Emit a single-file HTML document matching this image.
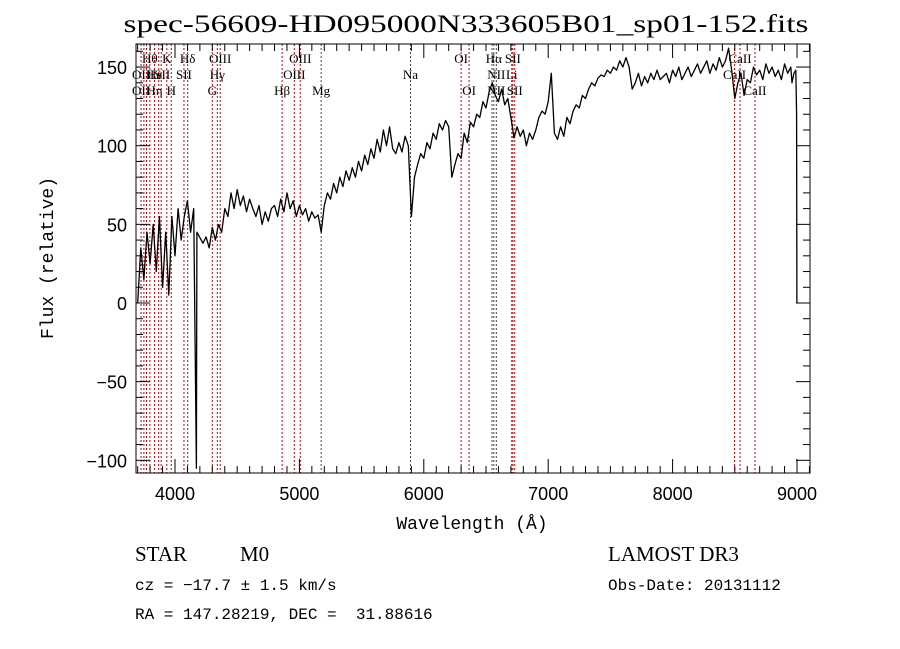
<!DOCTYPE html>
<html><head><meta charset="utf-8"><style>
body{margin:0;background:#fff;}
svg{display:block;font-family:"Liberation Serif",serif;}
</style></head><body>
<svg id="chart" width="900" height="649" viewBox="0 0 900 649" xmlns="http://www.w3.org/2000/svg">
<rect width="900" height="649" fill="#fff"/>
<text x="466" y="32" font-size="25" text-anchor="middle" textLength="685" lengthAdjust="spacingAndGlyphs">spec-56609-HD095000N333605B01_sp01-152.fits</text>
<g id="lines"></g>
<g id="spec"></g>
<g id="axes"></g>
<text x="472" y="529" font-family="Liberation Mono,monospace" font-size="18" text-anchor="middle">Wavelength (Å)</text>
<text transform="translate(53,258) rotate(-90)" font-family="Liberation Mono,monospace" font-size="18" text-anchor="middle">Flux (relative)</text>
<text x="135" y="561" font-size="21">STAR</text>
<text x="240" y="561" font-size="21">M0</text>
<text x="608" y="561" font-size="21">LAMOST DR3</text>
<text x="135" y="590" font-family="Liberation Mono,monospace" font-size="16">cz = −17.7 ± 1.5 km/s</text>
<text x="608" y="590" font-family="Liberation Mono,monospace" font-size="16">Obs-Date: 20131112</text>
<text x="135" y="619" font-family="Liberation Mono,monospace" font-size="16" xml:space="preserve">RA = 147.28219, DEC =  31.88616</text>
</svg>
<script>
const wave=[
3700,3725,3750,3775,3800,3825,3850,3875,3900,3925,
3950,3975,4000,4025,4050,4075,4100,4125,4150,4172,
4176,4225,4250,4275,4300,4325,4350,4375,4400,4425,
4450,4475,4500,4525,4550,4575,4600,4625,4650,4675,
4700,4725,4750,4775,4800,4825,4850,4875,4900,4925,
4950,4975,5000,5025,5050,5075,5100,5125,5150,5175,
5200,5225,5250,5275,5300,5325,5350,5375,5400,5425,
5450,5475,5500,5525,5550,5575,5600,5625,5650,5675,
5700,5725,5750,5775,5800,5825,5850,5875,5900,5925,
5950,5975,6000,6025,6050,6075,6100,6125,6150,6175,
6200,6225,6250,6275,6300,6325,6350,6375,6400,6425,
6450,6475,6500,6525,6550,6575,6600,6625,6650,6675,
6700,6725,6750,6775,6800,6825,6850,6875,6900,6925,
6950,6975,7000,7025,7050,7075,7100,7125,7150,7175,
7200,7225,7250,7275,7300,7325,7350,7375,7400,7425,
7450,7475,7500,7525,7550,7575,7600,7625,7650,7675,
7700,7725,7750,7775,7800,7825,7850,7875,7900,7925,
7950,7975,8000,8025,8050,8075,8100,8125,8150,8175,
8200,8225,8250,8275,8300,8325,8350,8375,8400,8425,
8450,8475,8500,8525,8550,8575,8600,8625,8650,8675,
8700,8725,8750,8775,8800,8825,8850,8875,8900,8925,
8950,8960,8975,8990,8997,8999];
const flux=[
0,35,15,45,25,50,20,55,10,45,
5,55,30,60,40,55,65,45,60,-105,
45,38,42,35,48,40,50,45,60,55,
70,60,72,62,68,58,66,60,55,62,
50,58,52,60,62,55,66,58,70,60,
65,55,62,56,60,52,58,54,56,45,
62,70,66,76,70,80,74,84,78,86,
80,90,84,94,88,98,92,104,96,110,
100,112,98,95,102,96,106,100,55,80,
88,95,92,102,98,108,104,114,110,116,
112,80,88,95,92,108,102,115,112,120,
118,128,124,134,140,132,128,136,126,130,
118,105,112,106,110,100,108,104,110,118,
122,120,128,146,108,104,112,106,118,114,
122,126,124,132,130,136,140,138,143,145,
144,148,146,150,148,154,150,156,150,136,
140,146,138,144,140,146,142,148,142,144,
146,140,148,144,150,142,146,150,144,148,
152,146,150,154,146,152,148,156,150,154,
162,148,130,140,146,132,142,140,150,145,
148,142,152,146,150,144,148,142,152,146,
150,140,146,148,120,0];
const lineWave=[3727,3750,3771,3798,3835,3869,3889,3934,3970,4072,4102,4300,4340,4363,4861,4959,5007,5175,5893,6300,6364,6548,6563,6583,6707,6716,6731,8498,8542,8662];
const lineDark=[0,0,0,0,0,0,0,0,0,0,1,0,0,0,0,0,0,1,1,0,0,1,1,1,0,0,0,0,0,0];
const lineLabels=[["OII",3727,1],["OII",3727,2],["Hθ",3798,0],["He",3835,1],["Hη",3835,2],["K",3934,0],["ISII",3880,1],["H",3970,2],["Hδ",4102,0],["SII",4072,1],["OIII",4363,0],["Hγ",4340,1],["G",4300,2],["OIII",5007,0],["OIII",4959,1],["Hβ",4861,2],["Mg",5175,2],["Na",5893,1],["OI",6300,0],["OI",6364,2],["Hα",6563,0],["SII",6716,0],["NII",6583,1],["Li",6707,1],["NII",6583,2],["SII",6731,2],["CaII",8542,0],["CaII",8498,1],["CaII",8662,2]];
const xTicks=[4000,5000,6000,7000,8000,9000];
const yTicks=[-100,-50,0,50,100,150];

const L=136,R=810,T=44,B=473;
const xs=w=>175+(w-4000)*0.1244;
const ys=v=>303-v*1.573;
const NS="http://www.w3.org/2000/svg";
function mk(tag,attrs,parent){const e=document.createElementNS(NS,tag);for(const k in attrs)e.setAttribute(k,attrs[k]);parent.appendChild(e);return e;}
const gl=document.getElementById('lines'),gs=document.getElementById('spec'),ga=document.getElementById('axes');
lineWave.forEach((w,i)=>{const x=xs(w);
 const l=mk('line',{x1:x,x2:x,y1:T,y2:B,stroke:lineDark[i]?'#444':'#c00000','stroke-width':1,'stroke-dasharray':'2,2'},gl);
 
 });
lineLabels.forEach(([t,w,r])=>{const tx=mk('text',{x:xs(w),y:63+r*16,'font-size':13,'text-anchor':'middle'},gl);tx.textContent=t;
 
 });
let d='';const n=Math.min(wave.length,flux.length);
for(let i=0;i<n;i++){d+=(i?'L':'M')+xs(wave[i]).toFixed(1)+','+ys(flux[i]).toFixed(1);}
const p=mk('path',{d:d,fill:'none',stroke:'#000','stroke-width':1.3,'stroke-linejoin':'round'},gs);


const box=mk('rect',{x:L,y:T,width:R-L,height:B-T,fill:'none',stroke:'#000','stroke-width':1},ga);


for(let w=3700;w<=9100;w+=100){const x=xs(w);const maj=w%1000===0;const len=maj?14:7;
 mk('line',{x1:x,x2:x,y1:B,y2:B-len,stroke:'#000'},ga);mk('line',{x1:x,x2:x,y1:T,y2:T+len,stroke:'#000'},ga);}
for(let v=-100;v<=160;v+=10){const y=ys(v);const maj=v%50===0;const len=maj?14:7;
 mk('line',{x1:L,x2:L+len,y1:y,y2:y,stroke:'#000'},ga);mk('line',{x1:R,x2:R-len,y1:y,y2:y,stroke:'#000'},ga);}
xTicks.forEach(w=>{const t=mk('text',{x:xs(w),y:500,'font-size':18,'text-anchor':'middle','font-family':'Liberation Sans,sans-serif'},ga);t.textContent=w;
 
 });
yTicks.forEach(v=>{const t=mk('text',{x:127,y:ys(v)+7,'font-size':18,'text-anchor':'end','font-family':'Liberation Sans,sans-serif'},ga);t.textContent=v<0?'\u2212'+(-v):v;
 
 });
</script>
</body></html>
